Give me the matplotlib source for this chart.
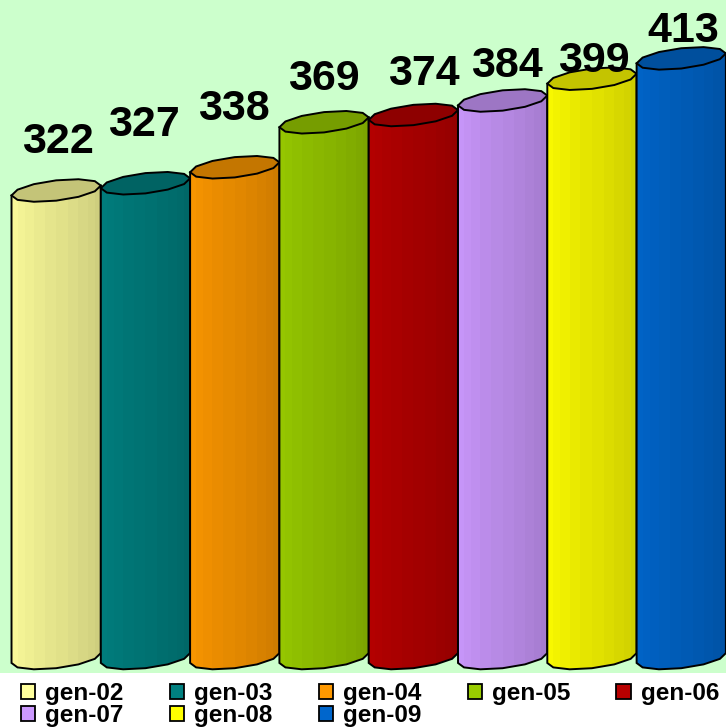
import numpy as np
import matplotlib
matplotlib.use("Agg")
import matplotlib.pyplot as plt
from matplotlib.patches import Polygon, Rectangle, Patch
from matplotlib.colors import to_rgb

# data
gens = ["gen-02", "gen-03", "gen-04", "gen-05", "gen-06", "gen-07", "gen-08", "gen-09"]
values = [322, 327, 338, 369, 374, 384, 399, 413]
colors = ["#FFFF9C", "#008080", "#FF9900", "#99CC00", "#B80000", "#CC99FF", "#FFFF00", "#0066CC"]

# hand-placed label nudges (pixels), like dragged labels
label_lift = [38, 47, 47, 32, 30, 23, 7, 16]
label_dx = [2, -2, -1, 0, 10, 4, 2, 2]

plt.rcParams["font.family"] = ["Liberation Sans", "DejaVu Sans"]

fig = plt.figure(figsize=(7.26, 7.28), dpi=100)
fig.patch.set_facecolor("white")
ax = fig.add_axes([0, 55 / 728, 1, 673 / 728])
ax.set_facecolor("#CCFFCC")
ax.set_xlim(-0.629, 7.501)
ax.set_ylim(-10.3, 453.2)
ax.set_xticks([])
ax.set_yticks([])
for s in ax.spines.values():
    s.set_visible(False)

A = 0.5      # half width in x units
B = 7.0      # ellipse half height in value units
S = 3.4      # tilt of the ellipse


def ring(cx, cy, t):
    return np.column_stack([cx + A * np.cos(t), cy + B * np.sin(t) + S * np.cos(t)])


def shade(c, f):
    r, g, b = to_rgb(c)
    return (r * f, g * f, b * f)


def cylinder(i, v, col, z):
    # side: left top, down round the front of the base, up to right top
    t_low = np.linspace(np.pi, 2 * np.pi, 7)
    bottom = ring(i, 0, t_low)
    pts = np.vstack([[i - A, v - S], bottom, [i + A, v + S]])
    side = Polygon(pts, closed=True, facecolor="none", edgecolor="none", zorder=z)
    ax.add_patch(side)
    n = 12
    th = np.linspace(np.pi, 0, n + 1)
    xs = i + A * np.cos(th)
    for k in range(n):
        f = 1.0 - 0.22 * (k + 0.5) / n
        strip = Rectangle((xs[k], -20), xs[k + 1] - xs[k] + 0.002, v + 40,
                          facecolor=shade(col, f), edgecolor="none", zorder=z)
        ax.add_patch(strip)
        strip.set_clip_path(side)
    outline = Polygon(pts, closed=True, facecolor="none", edgecolor="black",
                      linewidth=1.4, zorder=z + 0.1)
    ax.add_patch(outline)
    top = Polygon(ring(i, v, np.linspace(0, 2 * np.pi, 13)[:-1]), closed=True,
                  facecolor=shade(col, 0.77), edgecolor="black", linewidth=1.4,
                  zorder=z + 0.2)
    ax.add_patch(top)


for i, (v, c) in enumerate(zip(values, colors)):
    cylinder(i, v, c, 2 + i)
    ax.annotate(str(v), (i, v), xytext=(label_dx[i], label_lift[i]),
                textcoords="offset pixels", ha="center", va="baseline",
                fontsize=31, fontweight="bold", color="black", zorder=20)

# legend filled row by row (matplotlib fills columns first)
order = [0, 5, 1, 6, 2, 7, 3, 4]
handles = [Patch(facecolor=colors[k], edgecolor="black", linewidth=1.3) for k in order]
labels = [gens[k] for k in order]
fig.legend(handles, labels, ncol=5, loc="upper left",
           bbox_to_anchor=(21 / 726, 1 - 682 / 728), frameon=False,
           prop={"weight": "bold", "size": 17.5}, handlelength=0.58,
           handleheight=0.55, handletextpad=0.42, columnspacing=1.9,
           labelspacing=-0.05, borderpad=0, borderaxespad=0)

fig.savefig("out.png", dpi=100, facecolor="white")
